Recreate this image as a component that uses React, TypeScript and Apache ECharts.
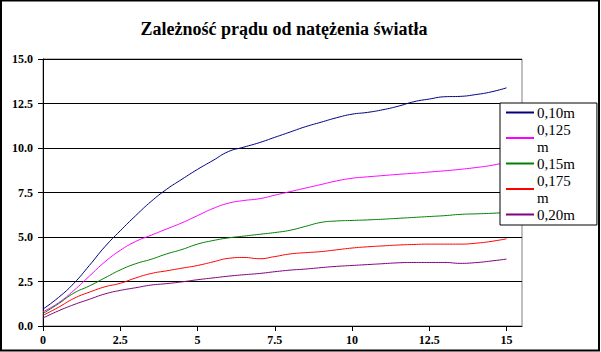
import React, { useEffect, useRef } from "react";
import * as echarts from "echarts";

const title = "Zależność prądu od natężenia światła";
const xValues = [0, 0.5, 1, 1.5, 2, 2.5, 3, 3.5, 4, 4.5, 5, 5.5, 6, 6.5, 7, 7.5, 8, 8.5, 9, 9.5, 10, 10.5, 11, 11.5, 12, 12.5, 13, 13.5, 14, 14.5, 15];
const seriesNames = ["0,10m", "0,125 m", "0,15m", "0,175 m", "0,20m"];
const seriesColors = ["#000080", "#FF00FF", "#008000", "#FF0000", "#800080"];
const s010 = [0.95, 1.6, 2.4, 3.4, 4.45, 5.35, 6.2, 7.0, 7.68, 8.25, 8.8, 9.3, 9.8, 10.05, 10.3, 10.6, 10.9, 11.2, 11.45, 11.7, 11.9, 12.0, 12.15, 12.35, 12.6, 12.75, 12.88, 12.9, 13.0, 13.15, 13.38];
const s0125 = [0.8, 1.3, 2.0, 2.8, 3.6, 4.25, 4.75, 5.1, 5.45, 5.8, 6.2, 6.6, 6.9, 7.05, 7.15, 7.35, 7.55, 7.75, 7.95, 8.15, 8.3, 8.38, 8.45, 8.52, 8.58, 8.65, 8.72, 8.8, 8.9, 9.02, 9.2];
const s015 = [0.7, 1.25, 1.85, 2.25, 2.7, 3.15, 3.5, 3.75, 4.05, 4.3, 4.6, 4.8, 4.95, 5.05, 5.15, 5.25, 5.38, 5.6, 5.82, 5.9, 5.93, 5.96, 6.0, 6.05, 6.1, 6.15, 6.2, 6.27, 6.3, 6.33, 6.38];
const s0175 = [0.6, 1.05, 1.55, 1.9, 2.2, 2.4, 2.7, 2.95, 3.1, 3.25, 3.4, 3.6, 3.8, 3.85, 3.78, 3.9, 4.05, 4.12, 4.18, 4.28, 4.38, 4.45, 4.5, 4.55, 4.58, 4.6, 4.6, 4.6, 4.65, 4.75, 4.9];
const s020 = [0.45, 0.85, 1.2, 1.5, 1.8, 2.0, 2.15, 2.3, 2.38, 2.48, 2.6, 2.7, 2.8, 2.88, 2.95, 3.05, 3.14, 3.2, 3.28, 3.35, 3.4, 3.45, 3.5, 3.55, 3.57, 3.57, 3.57, 3.52, 3.56, 3.65, 3.76];
const allSeries = [s010, s0125, s015, s0175, s020];

const serif = "Liberation Serif";

export default function App() {
  const ref = useRef<HTMLDivElement>(null);
  useEffect(() => {
    if (!ref.current) return;
    const chart = echarts.init(ref.current, null, { renderer: "svg" });
    chart.setOption({
      animation: false,
      backgroundColor: "#ffffff",
      title: {
        text: title,
        left: 279,
        top: 15,
        textAlign: "center",
        textStyle: { fontFamily: serif, fontWeight: "bold", fontSize: 18, color: "#000" },
      },
      graphic: [
        {
          type: "rect",
          shape: { x: 1, y: 0.5, width: 598, height: 350 },
          style: { fill: "none", stroke: "#000", lineWidth: 2 },
          z: 100,
        },
      ],
      grid: {
        left: 43,
        top: 59,
        right: 79,
        bottom: 26,
        show: true,
        borderColor: "#808080",
        borderWidth: 1,
        backgroundColor: "#fff",
      },
      legend: {
        orient: "vertical",
        left: 500,
        top: 103,
        width: 97,
        backgroundColor: "#fff",
        borderColor: "#000",
        borderWidth: 1,
        padding: [1, 22, 2, 6],
        itemGap: 0,
        itemWidth: 28,
        itemHeight: 2,
        icon: "rect",
        formatter: (name: string) => name.replace(" ", "\n"),
        textStyle: { fontFamily: serif, fontSize: 15, color: "#000", lineHeight: 17, padding: [0, 0, 0, -2] },
        data: seriesNames,
        z: 20,
      },
      xAxis: {
        type: "value",
        min: 0,
        max: 15.5,
        interval: 2.5,
        axisLine: { show: true, lineStyle: { color: "#000", width: 1 } },
        axisTick: { show: true, length: 5, lineStyle: { color: "#000" } },
        splitLine: { show: false },
        axisLabel: {
          showMaxLabel: false,
          margin: 8,
          fontFamily: serif,
          fontWeight: "bold",
          fontSize: 12,
          color: "#000",
          formatter: (v: number) => (Math.abs(v / 2.5 - Math.round(v / 2.5)) < 1e-6 ? String(v) : ""),
        },
      },
      yAxis: {
        type: "value",
        min: 0,
        max: 15,
        interval: 2.5,
        axisLine: { show: true, lineStyle: { color: "#000", width: 1 } },
        axisTick: { show: true, length: 5, lineStyle: { color: "#000" } },
        splitLine: { show: true, lineStyle: { color: "#000", width: 1 } },
        axisLabel: {
          margin: 10,
          fontFamily: serif,
          fontWeight: "bold",
          fontSize: 12,
          color: "#000",
          formatter: (v: number) => v.toFixed(1),
        },
      },
      series: seriesNames.map((name, i) => ({
        name,
        type: "line",
        smooth: true,
        showSymbol: false,
        symbol: "none",
        color: seriesColors[i],
        lineStyle: { color: seriesColors[i], width: 1 },
        data: xValues.map((x, j) => [x, allSeries[i][j]]),
      })),
    });
    return () => chart.dispose();
  }, []);
  return <div ref={ref} style={{ width: 601, height: 352, position: "absolute", left: 0, top: 0 }} />;
}
